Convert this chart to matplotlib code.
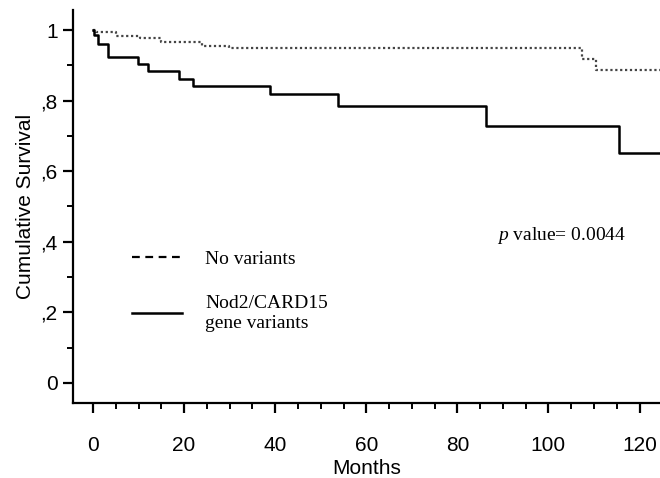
import numpy as np
import matplotlib.pyplot as plt
from matplotlib.lines import Line2D
from matplotlib.ticker import MultipleLocator, FixedLocator

# Kaplan-Meier step points (months, cumulative survival)
no_var_months = [0, 0.65, 5.0, 10.3, 14.9, 24.0, 29.9, 107.4, 110.5, 124.5]
no_var_surv = [1.0, 0.994, 0.984, 0.978, 0.966, 0.954, 0.948, 0.919, 0.888, 0.888]

nod2_months = [0, 0.3, 1.0, 3.3, 9.9, 12.1, 18.8, 21.9, 38.9, 53.8, 86.4, 115.5, 124.5]
nod2_surv = [1.0, 0.986, 0.962, 0.925, 0.903, 0.885, 0.861, 0.843, 0.820, 0.785, 0.728, 0.652, 0.652]

ytick_vals = [0, 0.2, 0.4, 0.6, 0.8, 1.0]
ytick_labels = ['0', ',2', ',4', ',6', ',8', '1']
xtick_vals = [0, 20, 40, 60, 80, 100, 120]

plt.rcParams['font.family'] = ['Liberation Sans', 'DejaVu Sans']
plt.rcParams['mathtext.fontset'] = 'custom'
plt.rcParams['mathtext.it'] = 'Liberation Serif:italic'
plt.rcParams['mathtext.rm'] = 'Liberation Serif'

fig = plt.figure(figsize=(6.6, 4.78), dpi=100)
ax = fig.add_axes([0.1106, 0.157, 0.8894, 0.822])

ax.step(no_var_months, no_var_surv, where='post', color='#444444',
        linestyle=(0, (1, 1.2)), linewidth=1.6)
ax.step(nod2_months, nod2_surv, where='post', color='black', linewidth=1.8)

ax.set_xlim(-4.4, 124.5)
ax.set_ylim(-0.057, 1.057)

for s in ['top', 'right']:
    ax.spines[s].set_visible(False)
for s in ['left', 'bottom']:
    ax.spines[s].set_linewidth(1.6)

ax.set_yticks(ytick_vals)
ax.set_yticklabels(ytick_labels)
ax.yaxis.set_minor_locator(FixedLocator([0.1, 0.3, 0.5, 0.7, 0.9]))
ax.set_xticks(xtick_vals)
ax.xaxis.set_minor_locator(MultipleLocator(5))
ax.tick_params(which='major', direction='out', length=7, width=1.6,
               labelsize=15, pad=4)
ax.tick_params(which='minor', direction='out', length=4, width=1.4)
ax.tick_params(axis='x', which='major', pad=17)

ax.set_xlabel('Months', fontsize=15, labelpad=3)
ax.set_ylabel('Cumulative Survival', fontsize=15, labelpad=4)

handles = [Line2D([], [], color='black', linestyle=(0, (3.5, 2.5)), linewidth=1.6),
           Line2D([], [], color='black', linewidth=1.8)]
ax.legend(handles, ['No variants', 'Nod2/CARD15\ngene variants'],
          loc='upper left', bbox_to_anchor=(0.071, 0.433), frameon=False,
          handlelength=2.55, handletextpad=1.2, labelspacing=1.4,
          prop={'family': 'Liberation Serif', 'size': 14})

ax.text(0.722, 0.425, r'$p$ value= 0.0044', transform=ax.transAxes,
        fontsize=14, family='Liberation Serif', va='center', ha='left')

fig.savefig('out.png', dpi=100)
